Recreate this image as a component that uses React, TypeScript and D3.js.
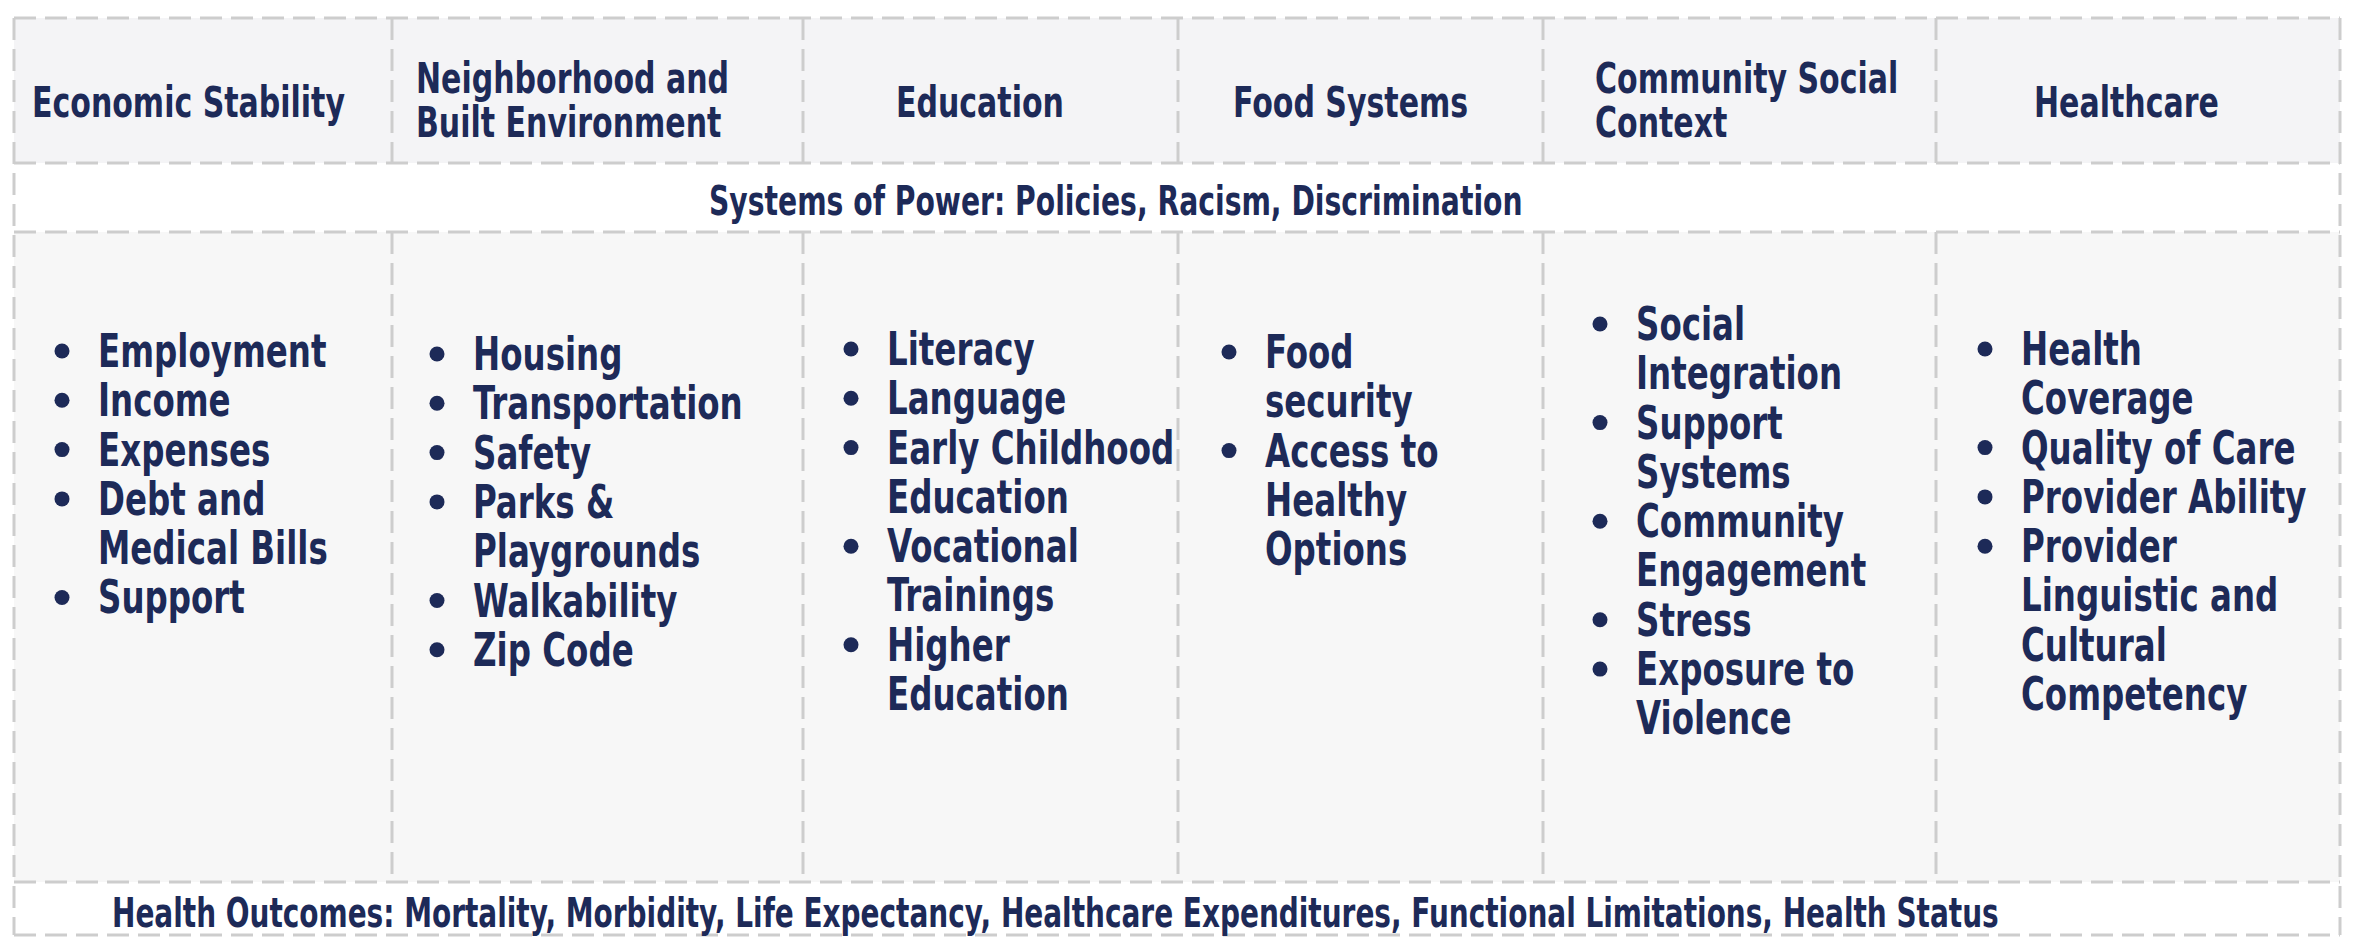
import React from "react";
import * as d3 from "d3";

// ---------- DATA ----------
const categories: string[] = [
  "Economic Stability",
  "Neighborhood and\nBuilt Environment",
  "Education",
  "Food Systems",
  "Community Social\nContext",
  "Healthcare",
];

const economicItems: string[] = ["Employment", "Income", "Expenses", "Debt and\nMedical Bills", "Support"];
const neighborhoodItems: string[] = ["Housing", "Transportation", "Safety", "Parks &\nPlaygrounds", "Walkability", "Zip Code"];
const educationItems: string[] = ["Literacy", "Language", "Early Childhood\nEducation", "Vocational\nTrainings", "Higher\nEducation"];
const foodItems: string[] = ["Food\nsecurity", "Access to\nHealthy\nOptions"];
const communityItems: string[] = ["Social\nIntegration", "Support\nSystems", "Community\nEngagement", "Stress", "Exposure to\nViolence"];
const healthcareItems: string[] = ["Health\nCoverage", "Quality of Care", "Provider Ability", "Provider\nLinguistic and\nCultural\nCompetency"];

const columnItems: string[][] = [economicItems, neighborhoodItems, educationItems, foodItems, communityItems, healthcareItems];

const systemsOfPower = "Systems of Power: Policies, Racism, Discrimination";
const healthOutcomes =
  "Health Outcomes: Mortality, Morbidity, Life Expectancy, Healthcare Expenditures, Functional Limitations, Health Status";

// ---------- LAYOUT ----------
const W = 2354;
const H = 948;
const colEdges = [14, 392, 803, 1178, 1543, 1936, 2340];
const rowEdges = { top: 18, header: 163, systems: 232, body: 882, bottom: 935 };
const headerOffset = [18, 24, 93, 55, 52, 98]; // text left inset per column
const headerSingleBaseline = 117;
const headerFirstBaseline = 93;
const headerLineStep = 44.5;
const bulletInset = [48, 45, 48, 51, 57, 49];
const textGap = 36;
const bodyFirstBaseline = [367, 370, 365, 368, 340, 365];
const bodyLineStep = 49.3;

const NAVY = "#1d2a58";
const DASH = "#cdcdcd";
const FONT = "'DejaVu Sans Condensed', 'DejaVu Sans', sans-serif";
const SX = 0.785; // horizontal condensing of the glyphs

function CText({ x, lines, y0, step, size, sx = SX }: { x: number; lines: string[]; y0: number; step: number; size: number; sx?: number }) {
  return (
    <text
      transform={`translate(${x},0) scale(${sx},1)`}
      fontFamily={FONT}
      fontWeight="bold"
      fontSize={size}
      fill={NAVY}
    >
      {lines.map((l, j) => (
        <tspan key={j} x={0} y={y0 + j * step}>
          {l}
        </tspan>
      ))}
    </text>
  );
}

export default function App() {
  const x = d3.scaleLinear().domain(d3.range(colEdges.length)).range(colEdges);
  const dash = { stroke: DASH, strokeWidth: 3, strokeDasharray: "22 9", fill: "none" };

  return (
    <svg width={W} height={H} style={{ position: "absolute", left: 0, top: 0, background: "#ffffff" }}>
      {/* backgrounds */}
      {categories.map((_, i) => (
        <g key={"bg" + i}>
          <rect x={x(i)} y={rowEdges.top} width={x(i + 1) - x(i)} height={rowEdges.header - rowEdges.top} fill="#f4f4f6" />
          <rect x={x(i)} y={rowEdges.systems} width={x(i + 1) - x(i)} height={rowEdges.body - rowEdges.systems} fill="#f7f7f7" />
        </g>
      ))}

      {/* horizontal dashed lines */}
      {[rowEdges.top, rowEdges.header, rowEdges.systems, rowEdges.body, rowEdges.bottom].map((y, i) => (
        <line key={"h" + i} x1={x(0)} x2={x(6)} y1={y} y2={y} style={dash} />
      ))}
      {/* outer verticals */}
      {[0, 6].map((i) => (
        <line key={"ov" + i} x1={x(i)} x2={x(i)} y1={rowEdges.top} y2={rowEdges.bottom} style={dash} />
      ))}
      {/* inner dividers (header + body only) */}
      {d3.range(1, 6).map((i) => (
        <g key={"iv" + i}>
          <line x1={x(i)} x2={x(i)} y1={rowEdges.top} y2={rowEdges.header} style={dash} />
          <line x1={x(i)} x2={x(i)} y1={rowEdges.systems} y2={rowEdges.body} style={dash} />
        </g>
      ))}

      {/* headers */}
      {categories.map((c, i) => {
        const lines = c.split("\n");
        const y0 = lines.length === 1 ? headerSingleBaseline : headerFirstBaseline;
        return <CText key={"hd" + i} x={x(i) + headerOffset[i]} lines={lines} y0={y0} step={headerLineStep} size={42.5} />;
      })}

      {/* systems of power */}
      <CText x={709} lines={[systemsOfPower]} y0={215} step={0} size={40} />

      {/* body lists */}
      {columnItems.map((items, i) => {
        let lineIdx = 0;
        const bx = x(i) + bulletInset[i];
        return (
          <g key={"col" + i}>
            {items.map((item, k) => {
              const lines = item.split("\n");
              const startIdx = lineIdx;
              lineIdx += lines.length;
              const by = bodyFirstBaseline[i] + startIdx * bodyLineStep;
              return (
                <g key={k}>
                  <circle cx={bx} cy={by - 16} r={7.5} fill={NAVY} />
                  <CText x={bx + textGap} lines={lines} y0={by} step={bodyLineStep} size={46} />
                </g>
              );
            })}
          </g>
        );
      })}

      {/* health outcomes */}
      <CText x={112} lines={[healthOutcomes]} y0={927} step={0} size={40} sx={0.777} />
    </svg>
  );
}
